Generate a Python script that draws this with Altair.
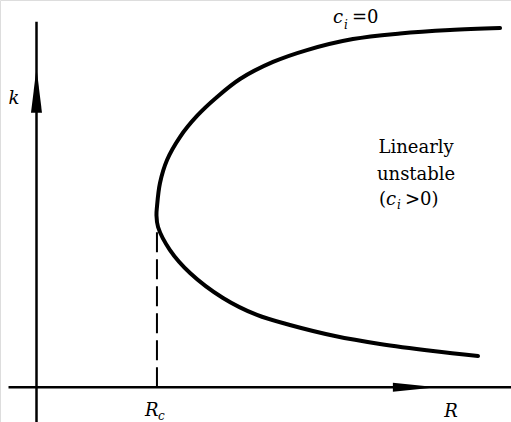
import altair as alt
import pandas as pd

# Neutral-stability curve c_i = 0 in the (R, k) plane
R_upper = [3.810, 3.399, 2.988, 2.601, 2.223, 1.944, 1.673, 1.484, 1.319, 1.179, 1.073, 1.015, 0.990]
k_upper = [3.618, 3.598, 3.563, 3.507, 3.396, 3.276, 3.104, 2.923, 2.732, 2.520, 2.289, 2.057, 1.815]
R_nose = [0.986]
k_nose = [1.735]
R_lower = [0.999, 1.097, 1.262, 1.533, 1.812, 2.083, 2.453, 2.823, 3.259, 3.629]
k_lower = [1.614, 1.382, 1.151, 0.899, 0.728, 0.627, 0.516, 0.436, 0.365, 0.315]

R_c = 0.99          # critical Reynolds number (nose of the curve)
k_c = 1.56          # top of the dashed marker line

W, H = 511, 422
SERIF = "DejaVu Serif"
x_scale = alt.Scale(domain=[-0.3, 3.9], nice=False, zero=False)
y_scale = alt.Scale(domain=[-0.35, 3.9], nice=False, zero=False)

R_all = R_upper + R_nose + R_lower
k_all = k_upper + k_nose + k_lower
curve_df = pd.DataFrame({"R": R_all, "k": k_all, "order": list(range(len(R_all)))})

X = lambda f: alt.X(f, type="quantitative", scale=x_scale, axis=None)
Y = lambda f: alt.Y(f, type="quantitative", scale=y_scale, axis=None)

curve = alt.Chart(curve_df).mark_line(
    color="black", strokeWidth=4, interpolate="catmull-rom", strokeCap="round"
).encode(x=X("R"), y=Y("k"), order="order:Q")

# Coordinate axes drawn as plain rules
vaxis = alt.Chart(pd.DataFrame({"R": [0.0], "k0": [-0.35], "k1": [3.68]})).mark_rule(
    color="black", strokeWidth=2.5
).encode(x=X("R"), y=Y("k0"), y2="k1")
haxis = alt.Chart(pd.DataFrame({"k": [0.0], "R0": [-0.23], "R1": [3.9]})).mark_rule(
    color="black", strokeWidth=2.5
).encode(y=Y("k"), x=X("R0"), x2="R1")

# Dashed line marking R_c
dashed = alt.Chart(pd.DataFrame({"R": [R_c], "k0": [0.0], "k1": [k_c]})).mark_rule(
    color="black", strokeWidth=2, strokeDash=[20, 7]
).encode(x=X("R"), y=Y("k0"), y2="k1")

# Arrowheads on the axes
arrow_up = alt.Chart(pd.DataFrame({"R": [0.0], "k": [2.99]})).mark_point(
    shape="M0,-1L0.244,1L-0.244,1Z", size=2025, filled=True, color="black", opacity=1
).encode(x=X("R"), y=Y("k"))
arrow_right = alt.Chart(pd.DataFrame({"R": [3.11], "k": [0.0]})).mark_point(
    shape="M1,0L-1,-0.2L-1,0.2Z", size=1936, filled=True, color="black", opacity=1
).encode(x=X("R"), y=Y("k"))


def label(text, R, k, size=18, italic=False, align="center"):
    return alt.Chart(pd.DataFrame({"R": [R], "k": [k], "t": [text]})).mark_text(
        font=SERIF, fontSize=size, fontStyle="italic" if italic else "normal",
        align=align, baseline="alphabetic", color="black"
    ).encode(x=X("R"), y=Y("k"), text="t:N")


texts = [
    label("k", -0.185, 2.853, italic=True),
    label("R", 3.407, -0.30, italic=True),
    label("R", 0.892, -0.29, italic=True, align="left"),
    label("c", 0.999, -0.33, size=12, italic=True, align="left"),
    label("c", 2.437, 3.668, italic=True, align="left"),
    label("i", 2.527, 3.608, size=12, italic=True, align="left"),
    label("=0", 2.593, 3.668, align="left"),
    label("Linearly", 3.12, 2.36),
    label("unstable", 3.12, 2.09),
    label("(", 2.815, 1.836, align="left"),
    label("c", 2.873, 1.836, italic=True, align="left"),
    label("i", 2.963, 1.795, size=12, italic=True, align="left"),
    label(">0)", 3.029, 1.836, align="left"),
]

chart = alt.layer(curve, dashed, vaxis, haxis, arrow_up, arrow_right, *texts).properties(
    width=W, height=H, padding=0, autosize=alt.AutoSizeParams(type="none")
).configure_view(stroke=None).configure(background="white")

chart.save("out.html", embed_options={"renderer": "svg", "actions": False})
